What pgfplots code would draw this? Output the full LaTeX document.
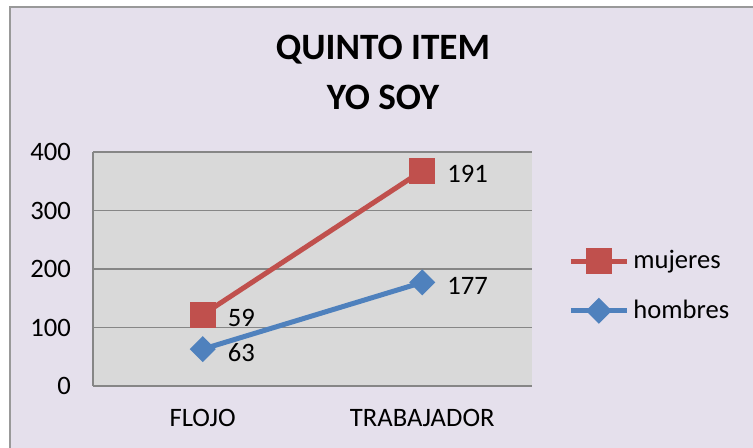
\documentclass[border=0pt]{standalone}
\usepackage{pgfplots}
\pgfplotsset{compat=1.18}
\usepackage{fontspec}
\setmainfont{Carlito}
\definecolor{bgl}{HTML}{E5E0EC}
\definecolor{plotbg}{HTML}{D9D9D9}
\definecolor{gridc}{HTML}{868686}
\definecolor{redc}{HTML}{C0504D}
\definecolor{bluec}{HTML}{4F81BD}
\begin{document}
\begin{tikzpicture}
\useasboundingbox (-46.5pt,-31pt) rectangle (330pt,193pt);
\fill[white] (-46.5pt,-31pt) rectangle (330pt,193pt);
\begin{scope}
\clip (-46.5pt,-31pt) rectangle (330pt,193pt);
\filldraw[fill=bgl,draw=gray!80,line width=1pt] (-41.5pt,189.5pt) rectangle (340pt,-40pt);
\end{scope}
\node[font=\bfseries\fontsize{18.6}{22}\selectfont] at (145pt,168pt) {QUINTO ITEM};
\node[font=\bfseries\fontsize{18.6}{22}\selectfont] at (145pt,144.5pt) {YO SOY};
\begin{axis}[
  at={(0pt,0pt)}, anchor=south west,
  scale only axis, width=219.5pt, height=117pt,
  axis background/.style={fill=plotbg},
  axis lines*=left,
  axis line style={gridc, line width=0.8pt, -},
  ymajorgrids, grid style={gridc, line width=0.8pt},
  major tick length=0pt,
  xmin=-0.5, xmax=1.5, xtick={0,1}, xticklabels={FLOJO,TRABAJADOR},
  ymin=0, ymax=400, ytick={0,100,200,300,400},
  tick label style={font=\fontsize{13.3}{15}\selectfont},
  /pgf/number format/assume math mode=true,
  yticklabel style={xshift=-7.5pt},
  xticklabel style={yshift=-8pt},
  stack plots=y,
  nodes near coords, point meta=explicit,
  nodes near coords style={anchor=west, xshift=8pt, yshift=-1.5pt, font=\fontsize{13.3}{15}\selectfont, text=black},
  reverse legend,
  legend style={draw=none, fill=none, at={(axis description cs:1,0.427)}, anchor=west, xshift=18pt,
    font=\fontsize{13.3}{15}\selectfont, row sep=10pt, inner sep=0pt},
  legend cell align=left,
  legend image code/.code={\draw[#1, mark repeat=2, mark phase=2] plot coordinates {(0pt,0pt) (14pt,0pt) (28pt,0pt)};},
]
\addplot[bluec, line width=2.5pt, mark=square*, mark options={rotate=45, mark size=3.36pt, solid}]
  coordinates {(0,63) [63] (1,177) [177]};
\addlegendentry{hombres}
\addplot[redc, line width=2.5pt, mark=square*, mark options={mark size=5.2pt, solid}]
  coordinates {(0,59) [59] (1,191) [191]};
\addlegendentry{mujeres}
\end{axis}
\end{tikzpicture}
\end{document}
